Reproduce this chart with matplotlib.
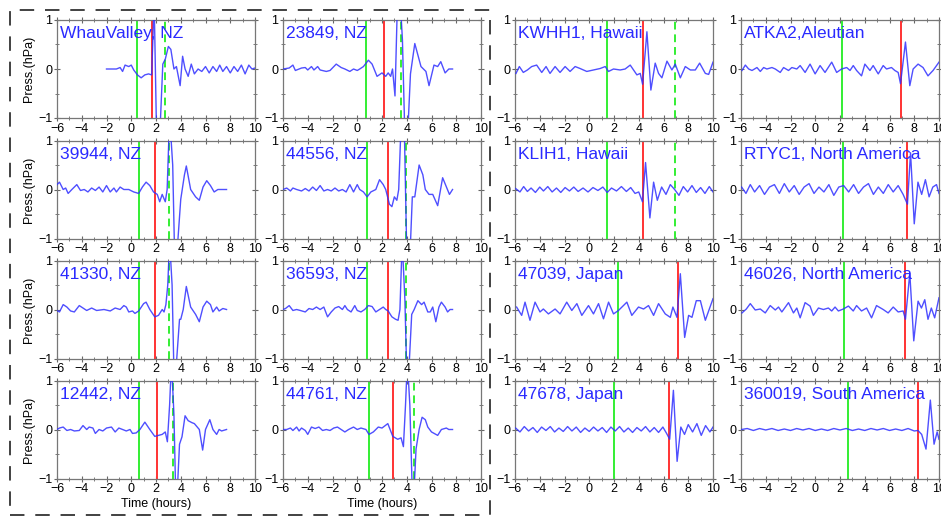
import numpy as np
import matplotlib
matplotlib.use("Agg")
import matplotlib.pyplot as plt
from matplotlib.patches import Rectangle
from matplotlib.ticker import MultipleLocator

plt.rcParams['font.family'] = ['Liberation Sans', 'DejaVu Sans']

# ---- station labels (row major) ----
labels = ["WhauValley, NZ", "23849, NZ", "KWHH1, Hawaii", "ATKA2,Aleutian",
          "39944, NZ", "44556, NZ", "KLIH1, Hawaii", "RTYC1, North America",
          "41330, NZ", "36593, NZ", "47039, Japan", "46026, North America",
          "12442, NZ", "44761, NZ", "47678, Japan", "360019, South America"]

# arrival markers (hours)
green_line = [0.5, 0.72, 1.42, 2.2, 0.6, 0.8, 1.42, 2.25,
              0.6, 0.8, 2.31, 2.3, 0.64, 0.94, 2.0, 2.65]
red_line = [1.7, 2.2, 4.33, 6.9, 1.88, 2.5, 4.33, 7.45,
            1.88, 2.47, 7.17, 7.29, 2.06, 2.87, 6.45, 8.3]
green_dash = [2.7, 3.55, 6.95, None, 3.03, 3.95, 6.95, None,
              3.03, 3.9, None, None, 3.35, 4.56, None, None]

# ---- pressure records (time h, press hPa) ----
whau_t = [-2, -1.2, -0.9, -0.7, -0.5, -0.2, 0.0, 0.2, 0.5, 0.8, 1.1, 1.4, 1.65, 1.85, 2.05, 2.3, 2.55,
          2.75, 3.0, 3.2, 3.45, 3.65, 3.95, 4.15, 4.35, 4.6, 4.85, 5.1, 5.4, 5.7, 6.0, 6.3, 6.6, 6.9,
          7.15, 7.4, 7.7, 8.0, 8.3, 8.6, 8.9, 9.2, 9.5, 9.75, 10.0]
whau_p = [0.0, 0.0, 0.03, -0.05, 0.08, 0.05, 0.08, -0.02, -0.12, -0.18, -0.12, -0.1, -0.12, 1.4, -1.4, -1.4, 0.1,
          0.2, 0.46, 0.4, 0.0, 0.05, -0.34, 0.26, 0.0, -0.15, 0.1, -0.1, 0.0, -0.05, 0.05, -0.08, 0.05, -0.05,
          0.08, -0.05, 0.05, -0.08, 0.05, -0.05, 0.08, -0.1, 0.08, 0.0, 0.02]

s23849_t = [-6, -5.5, -5.2, -5.0, -4.5, -4.2, -4.0, -3.7, -3.5, -3.2, -3.0, -2.5, -2.2, -1.7, -1.3, -1.0,
            -0.6, -0.3, 0.0, 0.2, 0.5, 0.9, 1.2, 1.6, 2.0, 2.3, 2.5, 2.7, 2.85, 3.05, 3.25, 3.45, 3.65,
            3.85, 4.1, 4.3, 4.65, 5.15, 5.55, 5.8, 6.2, 6.5, 6.75, 7.1, 7.4, 7.7]
s23849_p = [0.0, 0.02, 0.08, -0.03, 0.02, 0.03, -0.02, 0.05, -0.02, 0.05, -0.02, -0.05, -0.03, 0.1, 0.03, 0.0,
            -0.05, 0.0, -0.03, 0.0, 0.05, 0.18, 0.1, -0.15, -0.08, -0.15, -0.08, -0.15, 0.0, -0.55, 1.4, 1.5, 0.6,
            -1.4, -1.2, -0.1, 0.52, 0.05, -0.05, -0.34, 0.08, 0.05, 0.15, -0.08, 0.0, 0.0]

kwhh_t = [-5.92, -5.65, -5.33, -5.0, -4.65, -4.25, -3.84, -3.49, -3.17, -2.76, -2.36, -1.95, -1.55, -1.14,
          -0.74, -0.2, 0.34, 0.88, 1.29, 1.56, 1.96, 2.5, 2.9, 3.31, 3.58, 3.85, 4.12, 4.31, 4.66, 4.98,
          5.33, 5.6, 5.87, 6.28, 6.68, 6.95, 7.36, 7.76, 8.17, 8.57, 8.92, 9.38, 9.65, 10.0]
kwhh_p = [-0.09, 0.05, -0.07, -0.02, 0.05, 0.08, -0.07, 0.05, -0.09, 0.05, -0.07, 0.05, -0.05, 0.05,
          0.01, -0.05, -0.02, 0.01, 0.05, -0.05, 0.0, -0.02, 0.0, 0.08, -0.02, -0.12, -0.09, -0.31, 0.76, -0.43,
          0.12, -0.09, -0.18, 0.16, -0.02, 0.1, -0.18, 0.05, -0.02, -0.02, 0.12, -0.09, -0.11, 0.14]

atka_t = [-5.92, -5.65, -5.38, -5.11, -4.71, -4.44, -4.17, -3.91, -3.5, -3.23, -2.83, -2.56, -2.16, -1.89,
          -1.49, -1.22, -0.82, -0.42, -0.01, 0.39, 0.79, 1.33, 1.73, 2.13, 2.54, 2.81, 3.07, 3.34, 3.74,
          4.01, 4.42, 4.68, 5.09, 5.49, 5.76, 6.16, 6.43, 6.7, 6.89, 7.29, 7.64, 7.91, 8.31, 8.71, 9.11,
          9.52, 10.0]
atka_p = [-0.03, 0.08, 0.0, -0.03, 0.03, -0.05, 0.03, 0.0, 0.03, 0.0, -0.07, 0.03, -0.03, 0.03,
          0.0, 0.07, -0.07, 0.1, -0.1, 0.07, -0.07, 0.14, -0.07, 0.0, 0.03, -0.03, 0.07, -0.03, -0.14,
          0.1, -0.03, 0.07, -0.1, 0.07, 0.0, 0.03, -0.03, -0.07, -0.3, 0.55, -0.34, 0.0, 0.1, 0.03, -0.14,
          -0.03, 0.14]

s39944_t = [-6, -5.8, -5.5, -5.3, -5.1, -4.8, -4.4, -4.1, -3.8, -3.5, -3.2, -2.9, -2.6, -2.3, -2.0, -1.7,
            -1.4, -1.2, -0.9, -0.6, -0.2, 0.2, 0.6, 0.9, 1.2, 1.5, 1.8, 2.1, 2.3, 2.5, 2.75, 2.9, 3.1, 3.35,
            3.5, 3.75, 4.0, 4.3, 4.45, 4.8, 5.2, 5.5, 5.8, 6.1, 6.4, 6.7, 7.0, 7.7]
s39944_p = [0.1, 0.15, 0.0, 0.03, -0.08, 0.0, 0.1, -0.02, 0.0, -0.05, 0.03, -0.02, 0.05, -0.05, 0.08, -0.05,
            0.03, -0.05, 0.05, 0.0, 0.0, -0.05, -0.08, 0.05, 0.15, 0.08, -0.05, -0.1, -0.25, -0.1, -0.25, 0.0, 1.5, 0.5,
            -1.3, -1.1, -0.2, 0.3, 0.48, 0.0, -0.15, -0.22, 0.05, 0.18, 0.08, -0.05, 0.0, 0.0]

s44556_t = [-6, -5.7, -5.4, -5.2, -4.9, -4.5, -4.2, -3.9, -3.6, -3.3, -3.0, -2.7, -2.4, -2.1, -1.8, -1.5,
            -1.2, -0.9, -0.6, -0.3, 0.0, 0.2, 0.5, 0.8, 1.1, 1.5, 1.8, 2.1, 2.3, 2.6, 2.8, 3.0, 3.2, 3.35,
            3.55, 3.8, 4.0, 4.3, 4.45, 4.65, 5.0, 5.3, 5.5, 5.8, 6.1, 6.5, 6.9, 7.45, 7.7]
s44556_p = [0.0, 0.03, -0.03, 0.03, 0.0, -0.03, 0.02, -0.03, 0.05, -0.02, 0.08, -0.03, 0.0, -0.03, 0.03, -0.03,
            0.0, -0.05, 0.1, -0.05, 0.1, 0.0, -0.05, -0.15, -0.05, 0.0, 0.2, 0.1, 0.0, -0.3, -0.35, -0.15, -0.22, 0.0,
            1.4, 1.3, -1.3, -1.1, -0.15, -0.15, 0.5, 0.3, 0.0, -0.1, -0.1, -0.33, 0.24, -0.1, 0.0]

klih_t = [-5.95, -5.6, -5.3, -5.0, -4.7, -4.35, -4.0, -3.7, -3.35, -3.0, -2.65, -2.3, -1.95, -1.6, -1.25,
          -0.9, -0.5, -0.1, 0.3, 0.7, 1.1, 1.45, 1.8, 2.2, 2.6, 3.0, 3.35, 3.7, 4.0, 4.3, 4.55, 4.9,
          5.2, 5.5, 5.85, 6.2, 6.55, 6.9, 7.25, 7.6, 7.95, 8.3, 8.65, 9.0, 9.35, 9.7, 10.0]
klih_p = [0.02, -0.05, 0.06, -0.04, 0.03, -0.06, 0.05, -0.03, 0.06, -0.05, 0.03, -0.06, 0.04, -0.03, 0.05,
          -0.04, 0.03, -0.05, 0.04, -0.02, 0.05, -0.06, 0.03, -0.03, 0.06, -0.04, 0.04, -0.08, -0.05, -0.25, 0.55, -0.58,
          0.15, -0.22, 0.05, -0.1, 0.1, 0.0, -0.12, 0.06, -0.05, 0.08, -0.06, 0.04, -0.08, 0.06, -0.05]

rtyc_t = [-5.95, -5.6, -5.25, -4.9, -4.5, -4.1, -3.7, -3.3, -2.9, -2.5, -2.1, -1.7, -1.3, -0.9, -0.5,
          -0.1, 0.3, 0.7, 1.1, 1.5, 1.9, 2.3, 2.7, 3.1, 3.5, 3.9, 4.3, 4.7, 5.1, 5.5, 5.9, 6.3, 6.7,
          7.1, 7.45, 7.7, 8.0, 8.3, 8.6, 8.9, 9.2, 9.5, 9.8, 10.0]
rtyc_p = [0.05, -0.08, 0.1, -0.05, 0.08, -0.1, 0.05, 0.1, -0.08, 0.12, -0.05, 0.08, -0.1, 0.05, 0.12,
          -0.08, 0.05, -0.05, 0.1, -0.12, 0.05, 0.08, -0.05, 0.1, -0.08, 0.05, 0.12, -0.1, 0.05, -0.08, 0.1, -0.05, 0.08,
          -0.1, -0.3, 0.75, -0.7, 0.15, -0.1, 0.2, -0.15, 0.05, 0.1, -0.08]

s41330_t = [-6, -5.8, -5.5, -5.2, -4.9, -4.6, -4.2, -3.9, -3.6, -3.2, -2.8, -2.2, -1.7, -1.3, -0.9, -0.6,
            -0.4, -0.2, 0.1, 0.3, 0.6, 1.0, 1.2, 1.5, 1.9, 2.2, 2.5, 2.65, 2.8, 2.95, 3.1, 3.3, 3.45, 3.65,
            3.9, 4.0, 4.2, 4.45, 4.8, 5.2, 5.5, 5.8, 6.1, 6.4, 6.6, 6.9, 7.1, 7.4, 7.7]
s41330_p = [-0.02, -0.05, 0.1, 0.05, -0.03, -0.05, 0.08, 0.03, -0.02, 0.03, -0.02, 0.0, -0.03, 0.03, 0.0, 0.08,
            0.05, -0.05, -0.03, -0.08, -0.03, 0.12, 0.15, 0.0, -0.15, -0.12, 0.0, -0.05, 0.1, 0.5, 1.4, 0.5, -1.3, -1.1,
            -0.2, -0.2, 0.0, 0.47, 0.05, -0.1, -0.25, 0.05, 0.17, 0.1, -0.05, 0.05, -0.03, 0.02, 0.0]

s36593_t = [-6, -5.8, -5.5, -5.2, -4.9, -4.6, -4.2, -3.9, -3.6, -3.3, -3.0, -2.7, -2.4, -2.1, -1.8, -1.5,
            -1.2, -1.0, -0.8, -0.5, -0.2, 0.0, 0.3, 0.6, 0.9, 1.2, 1.5, 1.8, 2.1, 2.3, 2.5, 2.8, 3.1, 3.3,
            3.45, 3.63, 3.85, 4.0, 4.2, 4.4, 4.6, 4.9, 5.2, 5.4, 5.7, 5.9, 6.1, 6.35, 6.6, 6.8, 7.1, 7.3,
            7.5, 7.7]
s36593_p = [0.0, 0.02, 0.08, -0.02, 0.0, -0.02, -0.05, 0.02, 0.0, 0.05, 0.0, 0.05, -0.15, -0.05, 0.03, 0.06,
            0.0, 0.08, 0.0, -0.05, 0.08, -0.02, -0.05, 0.0, 0.08, 0.06, -0.05, 0.0, 0.05, 0.0, -0.03, -0.15, -0.2, -0.22,
            0.0, 1.4, 0.2, -1.3, -1.1, -0.1, 0.0, 0.18, 0.1, 0.15, -0.05, -0.05, 0.05, -0.25, 0.05, 0.15, 0.05, -0.05,
            0.0, 0.0]

s47039_t = [-5.87, -5.46, -5.19, -4.79, -4.38, -3.98, -3.71, -3.3, -2.76, -2.36, -1.82, -1.41, -1.0, -0.6,
            -0.06, 0.34, 0.75, 1.15, 1.56, 1.96, 2.36, 3.04, 3.44, 3.98, 4.39, 4.79, 5.2, 5.6, 6.14, 6.55,
            6.76, 7.09, 7.36, 7.71, 8.03, 8.3, 8.65, 8.98, 9.38, 10.0]
s47039_p = [0.05, -0.12, 0.15, -0.22, 0.15, -0.05, 0.01, -0.09, 0.01, -0.09, 0.15, -0.02, 0.12, -0.12,
            0.08, -0.09, 0.12, -0.19, 0.15, -0.09, -0.02, 0.15, -0.12, 0.05, 0.01, 0.08, -0.12, 0.12, -0.09, -0.16,
            0.05, -0.16, 0.73, -0.57, -0.12, -0.16, 0.18, 0.18, -0.22, 0.22]

s46026_t = [-5.92, -5.57, -5.25, -4.85, -4.44, -4.04, -3.64, -3.23, -2.97, -2.7, -2.16, -1.76, -1.49, -1.22,
            -0.82, -0.42, -0.15, 0.26, 0.66, 1.06, 1.33, 1.6, 1.87, 2.27, 2.68, 3.07, 3.34, 3.74, 4.15, 4.55,
            4.95, 5.49, 5.89, 6.3, 6.7, 7.1, 7.29, 7.64, 7.96, 8.31, 8.58, 8.85, 9.11, 9.38, 9.65, 10.0]
s46026_p = [-0.07, 0.01, 0.12, -0.01, 0.01, -0.07, 0.08, -0.01, 0.05, -0.05, 0.14, -0.07, 0.03, -0.17,
            0.14, 0.07, -0.12, 0.03, 0.0, 0.03, -0.03, 0.05, -0.03, 0.01, 0.07, -0.03, 0.08, -0.03, 0.03, -0.17,
            0.08, 0.0, -0.07, 0.05, -0.05, -0.03, -0.2, 0.74, -0.64, 0.17, 0.03, 0.2, -0.2, 0.03, -0.17, 0.24]

s12442_t = [-6, -5.8, -5.5, -5.2, -4.9, -4.6, -4.2, -3.9, -3.6, -3.4, -3.1, -2.9, -2.6, -2.3, -2.0, -1.6,
            -1.3, -1.0, -0.7, -0.4, -0.1, 0.1, 0.4, 0.7, 1.1, 1.5, 1.9, 2.2, 2.5, 2.75, 2.92, 3.1, 3.25, 3.45,
            3.6, 3.75, 3.9, 4.1, 4.35, 4.6, 4.9, 5.1, 5.5, 5.77, 6.0, 6.35, 6.6, 6.9, 7.1, 7.3, 7.7]
s12442_p = [0.0, 0.03, 0.05, -0.02, 0.0, -0.03, -0.02, 0.08, 0.0, 0.05, 0.03, -0.08, 0.0, -0.03, 0.03, 0.05,
            -0.05, 0.03, 0.0, -0.03, 0.0, -0.08, -0.07, 0.0, 0.15, 0.0, -0.14, -0.12, -0.1, -0.05, -0.25, 0.5, 1.4, 0.3,
            -1.4, -1.1, -0.3, -0.15, 0.28, 0.18, 0.14, 0.12, 0.0, -0.42, 0.0, 0.2, 0.0, -0.1, 0.0, -0.03, 0.0]

s44761_t = [-6, -5.7, -5.4, -5.2, -4.9, -4.7, -4.5, -4.2, -4.0, -3.7, -3.4, -3.1, -2.8, -2.5, -2.2, -1.9,
            -1.6, -1.3, -1.0, -0.7, -0.3, 0.0, 0.3, 0.7, 0.95, 1.3, 1.7, 2.0, 2.47, 2.87, 3.27, 3.54, 3.73,
            3.9, 4.05, 4.25, 4.45, 4.6, 4.75, 5.0, 5.24, 5.5, 5.7, 6.0, 6.5, 6.8, 7.2, 7.4, 7.7]
s44761_p = [0.0, 0.0, 0.03, -0.02, 0.05, -0.03, 0.03, -0.02, -0.1, 0.05, 0.02, 0.05, -0.02, 0.0, -0.02, 0.03,
            0.05, 0.0, -0.05, 0.0, 0.05, 0.0, 0.03, 0.0, -0.1, -0.05, 0.05, 0.03, 0.12, -0.14, -0.2, -0.17, -0.35,
            0.5, 1.4, 0.5, -1.3, -1.2, -0.4, 0.0, 0.25, 0.2, 0.05, -0.05, -0.12, 0.0, 0.03, 0.0, 0.0]

s47678_t = [-5.95, -5.6, -5.25, -4.9, -4.55, -4.2, -3.85, -3.5, -3.15, -2.8, -2.45, -2.1, -1.75, -1.4, -1.05,
            -0.7, -0.35, 0.0, 0.35, 0.7, 1.05, 1.4, 1.75, 2.1, 2.45, 2.8, 3.15, 3.5, 3.85, 4.2, 4.55, 4.9,
            5.25, 5.6, 5.95, 6.25, 6.5, 6.8, 7.1, 7.4, 7.7, 8.0, 8.35, 8.7, 9.05, 9.4, 9.75, 10.0]
s47678_p = [0.03, -0.05, 0.06, -0.03, 0.04, -0.06, 0.05, -0.02, 0.06, -0.05, 0.03, -0.04, 0.06, -0.03, 0.05,
            -0.06, 0.03, -0.04, 0.05, -0.03, 0.04, -0.06, 0.05, -0.03, 0.06, -0.05, 0.03, -0.06, 0.04, -0.03, 0.06, -0.05,
            0.04, -0.06, 0.05, -0.08, -0.2, 0.8, -0.65, 0.05, -0.1, 0.1, -0.05, 0.12, -0.12, 0.08, -0.05, 0.05]

s360019_t = [-5.95, -5.5, -5.0, -4.5, -4.0, -3.5, -3.0, -2.5, -2.0, -1.5, -1.0, -0.5, 0.0, 0.5, 1.0, 1.5,
             2.0, 2.5, 3.0, 3.5, 4.0, 4.5, 5.0, 5.5, 6.0, 6.5, 7.0, 7.5, 8.0, 8.3, 8.6, 8.95, 9.3, 9.6,
             9.85, 10.0]
s360019_p = [0.0, 0.02, -0.02, 0.02, -0.01, 0.02, -0.02, 0.01, -0.02, 0.02, -0.01, 0.02, -0.02, 0.01, -0.02, 0.02,
             -0.01, 0.02, -0.02, 0.01, -0.02, 0.02, -0.01, 0.02, -0.02, 0.01, -0.02, 0.02, -0.03, -0.02, -0.1, -0.4,
             0.6, -0.3, -0.05, -0.2]

series_t = [whau_t, s23849_t, kwhh_t, atka_t, s39944_t, s44556_t, klih_t, rtyc_t,
            s41330_t, s36593_t, s47039_t, s46026_t, s12442_t, s44761_t, s47678_t, s360019_t]
series_p = [whau_p, s23849_p, kwhh_p, atka_p, s39944_p, s44556_p, klih_p, rtyc_p,
            s41330_p, s36593_p, s47039_p, s46026_p, s12442_p, s44761_p, s47678_p, s360019_p]

W, H = 941, 519
fig = plt.figure(figsize=(W / 100, H / 100), dpi=100)

col_left = [57, 283, 515, 741]
row_top = [20, 140.5, 260.5, 380.5]
aw, ah = 198, 98

for i in range(16):
    r, c = divmod(i, 4)
    ax = fig.add_axes([col_left[c] / W, 1 - (row_top[r] + ah) / H, aw / W, ah / H])
    ax.plot(series_t[i], series_p[i], color='#3030ff', lw=1.0, alpha=0.85, zorder=3)
    ax.axvline(green_line[i], color='#33ee33', lw=1.4, zorder=2)
    ax.axvline(red_line[i], color='#ff3333', lw=1.4, zorder=2)
    if green_dash[i] is not None:
        ax.axvline(green_dash[i], color='#33ee33', lw=1.4, ls=(0, (4, 2.5)), zorder=2)
    ax.set_xlim(-6, 10)
    ax.set_ylim(-1, 1)
    ax.set_xticks(np.arange(-6, 11, 2))
    ax.set_yticks([-1, 0, 1])
    ax.xaxis.set_minor_locator(MultipleLocator(1))
    ax.yaxis.set_minor_locator(MultipleLocator(0.5))
    ax.tick_params(which='both', direction='inout', top=True, right=True,
                   labelsize=9, pad=1, color='#666666')
    ax.tick_params(which='major', length=5)
    ax.tick_params(which='minor', length=3)
    for sp in ax.spines.values():
        sp.set_color('#777777')
        sp.set_linewidth(0.9)
    ax.text(0.015, 0.86, labels[i], transform=ax.transAxes, color='#2a2aff',
            fontsize=12.5, va='center', ha='left', zorder=4)
    if c == 0:
        ax.set_ylabel('Press.(hPa)', fontsize=9, labelpad=2)
    if r == 3 and c < 2:
        ax.set_xlabel('Time (hours)', fontsize=9, labelpad=2)

# dashed frame around the New Zealand stations
fig.add_artist(Rectangle((10 / W, 1 - 515 / H), 480 / W, 505 / H, transform=fig.transFigure,
                         fill=False, ec='#333333', lw=1.3, ls=(0, (8, 6))))

fig.savefig('out.png', dpi=100)
